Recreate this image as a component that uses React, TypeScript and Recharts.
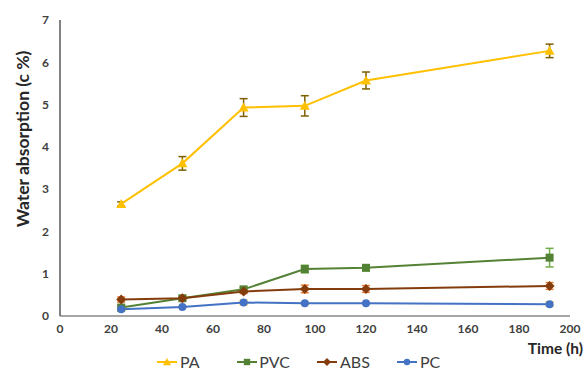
import { useEffect } from "react";
import {
  LineChart,
  Line,
  XAxis,
  YAxis,
  ErrorBar,
  Legend,
} from "recharts";

const hours = [24, 48, 72, 96, 120, 192];

const paValues = [2.65, 3.61, 4.93, 4.97, 5.57, 6.27];
const paErrors = [0.05, 0.16, 0.21, 0.24, 0.2, 0.16];

const pvcValues = [0.2, 0.42, 0.63, 1.11, 1.14, 1.38];
const pvcErrors = [0.05, 0.05, 0.05, 0.09, 0.07, 0.22];

const absValues = [0.39, 0.42, 0.58, 0.64, 0.64, 0.71];
const absErrors = [0.06, 0.04, 0.05, 0.09, 0.08, 0.08];

const pcValues = [0.16, 0.21, 0.32, 0.3, 0.3, 0.28];
const pcErrors = [0.03, 0.02, 0.05, 0.03, 0.02, 0.05];

const xTicks = [0, 20, 40, 60, 80, 100, 120, 140, 160, 180, 200];
const yTicks = [0, 1, 2, 3, 4, 5, 6, 7];

const data = hours.map((h, i) => ({
  time: h,
  PA: paValues[i],
  paErr: paErrors[i],
  PVC: pvcValues[i],
  pvcErr: pvcErrors[i],
  ABS: absValues[i],
  absErr: absErrors[i],
  PC: pcValues[i],
  pcErr: pcErrors[i],
}));

const FONT = "Lato, 'Open Sans', sans-serif";

type Shape = "triangle" | "square" | "diamond" | "circle";

const series: { key: string; err: string; color: string; errColor: string; shape: Shape }[] = [
  { key: "PA", err: "paErr", color: "#FFC000", errColor: "#7F6000", shape: "triangle" },
  { key: "PVC", err: "pvcErr", color: "#548235", errColor: "#70AD47", shape: "square" },
  { key: "ABS", err: "absErr", color: "#843C0C", errColor: "#ED7D31", shape: "diamond" },
  { key: "PC", err: "pcErr", color: "#4472C4", errColor: "#FFC000", shape: "circle" },
];

const marker = (shape: Shape, x: number, y: number, color: string, s = 1) => {
  if (shape === "triangle")
    return <polygon points={`${x},${y - 5 * s} ${x + 5 * s},${y + 4 * s} ${x - 5 * s},${y + 4 * s}`} fill={color} />;
  if (shape === "square")
    return <rect x={x - 4 * s} y={y - 4 * s} width={8 * s} height={8 * s} fill={color} />;
  if (shape === "diamond")
    return <polygon points={`${x},${y - 5 * s} ${x + 5 * s},${y} ${x},${y + 5 * s} ${x - 5 * s},${y}`} fill={color} />;
  return <circle cx={x} cy={y} r={4 * s} fill={color} />;
};

const makeDot = (shape: Shape, color: string) => (props: any) => {
  const { cx, cy, index } = props;
  if (cx == null || cy == null) return <g key={index} />;
  return <g key={index}>{marker(shape, cx, cy, color)}</g>;
};

const LegendContent = () => (
  <div
    style={{
      display: "flex",
      justifyContent: "center",
      gap: 26,
      fontFamily: FONT,
      fontSize: 16,
      color: "#404040",
      paddingLeft: 22,
    }}
  >
    {series.map((s) => (
      <div key={s.key} style={{ display: "flex", alignItems: "center", width: 54 }}>
        <svg width={22} height={12} style={{ marginRight: 2 }}>
          <line x1={1} y1={6} x2={21} y2={6} stroke={s.color} strokeWidth={2} />
          {marker(s.shape, 11, 6, s.color, 0.8)}
        </svg>
        <span>{s.key}</span>
      </div>
    ))}
  </div>
);

const TimeLabel = (props: any) => {
  const { viewBox } = props;
  return (
    <text
      x={viewBox.x + viewBox.width + 13}
      y={viewBox.y + 38}
      textAnchor="end"
      fontFamily={FONT}
      fontWeight={700}
      fontSize={15.5}
      fill="#262626"
    >
      Time (h)
    </text>
  );
};

const YLabel = () => (
  <text
    x={22}
    y={139}
    transform="rotate(-90 22 139)"
    textAnchor="middle"
    dominantBaseline="central"
    fontFamily={FONT}
    fontWeight={700}
    fontSize={17.5}
    fill="#262626"
  >
    Water absorption (c %)
  </text>
);

export default function App() {
  useEffect(() => {
    document.body.style.margin = "0";
  }, []);

  const tickStyle = { fontFamily: FONT, fontSize: 12, fontWeight: 700, fill: "#404040" };

  return (
    <div style={{ width: 584, height: 372, background: "#fff" }}>
      <LineChart width={584} height={372} data={data} margin={{ top: 20, right: 14, left: 0, bottom: 7 }}>
        <XAxis
          dataKey="time"
          type="number"
          domain={[0, 200]}
          ticks={xTicks}
          tickLine={false}
          axisLine={{ stroke: "#898989", strokeWidth: 1.5 }}
          tick={tickStyle}
          height={30}
          label={<TimeLabel />}
        />
        <YAxis
          domain={[0, 7]}
          ticks={yTicks}
          tickLine={false}
          axisLine={{ stroke: "#595959", strokeWidth: 1.5 }}
          tick={tickStyle}
          tickMargin={5}
          width={60}
          label={<YLabel />}
        />
        <Legend content={<LegendContent />} wrapperStyle={{ top: 352, left: 0, width: 584 }} />
        {series.map((s) => (
          <Line
            key={s.key}
            dataKey={s.key}
            stroke={s.color}
            strokeWidth={2}
            dot={makeDot(s.shape, s.color)}
            activeDot={false}
            isAnimationActive={false}
          >
            <ErrorBar dataKey={s.err} direction="y" width={4} stroke={s.errColor} strokeWidth={1.5} />
          </Line>
        ))}
      </LineChart>
    </div>
  );
}
